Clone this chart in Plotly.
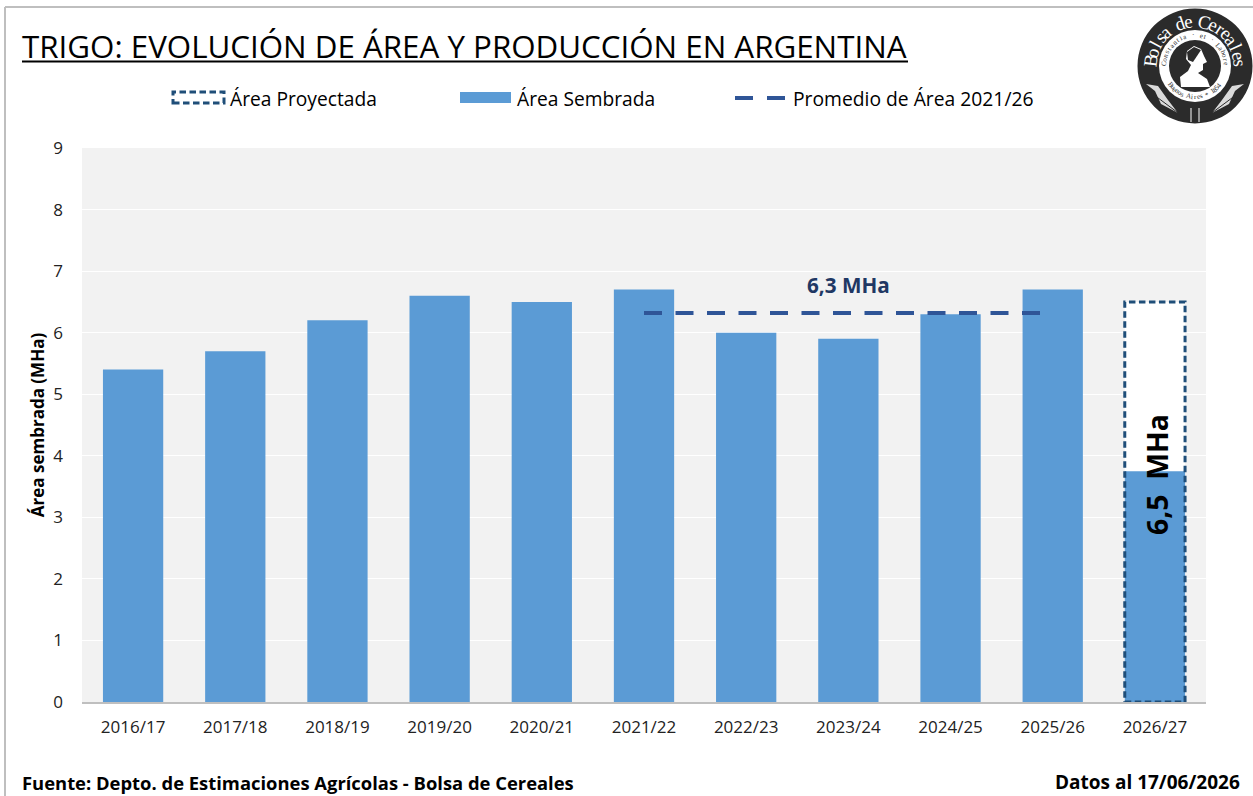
import math
import plotly.graph_objects as go

# ---- data ----
campaigns = ["2016/17", "2017/18", "2018/19", "2019/20", "2020/21", "2021/22",
             "2022/23", "2023/24", "2024/25", "2025/26", "2026/27"]
area_sembrada = [5.4, 5.7, 6.2, 6.6, 6.5, 6.7, 6.0, 5.9, 6.3, 6.7, 3.75]
area_proyectada = [None] * 10 + [6.5]
promedio_campaigns = ["2021/22", "2022/23", "2023/24", "2024/25", "2025/26"]
promedio_area = [6.32, 6.32, 6.32, 6.32, 6.32]
y_ticks = [0, 1, 2, 3, 4, 5, 6, 7, 8, 9]

TITLE = "TRIGO: EVOLUCIÓN DE ÁREA Y PRODUCCIÓN EN ARGENTINA"
FONT = "Open Sans"
BLUE = "#5B9BD5"
DASHBLUE = "#1F4E79"
MEAN = "#2F5597"
LOGO = "#2B2B2B"
BAR_W = 0.59

W, H = 1253, 796
L, R, T, B = 82, 1206, 148, 702


def px(x):
    return (x - L) / (R - L)


def py(y):
    return (B - y) / (B - T)


fig = go.Figure()
fig.add_bar(x=campaigns, y=area_proyectada, name="Área Proyectada", width=BAR_W,
            marker=dict(color="white", line=dict(width=0)), hoverinfo="skip")
fig.add_bar(x=campaigns, y=area_sembrada, name="Área Sembrada", width=BAR_W,
            marker=dict(color=BLUE, line=dict(width=0)), hoverinfo="skip")
fig.add_scatter(x=promedio_campaigns, y=promedio_area, mode="lines",
                name="Promedio de Área 2021/26",
                line=dict(color=MEAN, width=4, dash="18px,13.5px"))

shapes = []
ann = []


def text(x, y, s, size, color="black", bold=False, anchor="left", angle=0, family=FONT):
    ann.append(dict(x=px(x), y=py(y), xref="paper", yref="paper", text=f"<b>{s}</b>" if bold else s,
                    showarrow=False, xanchor=anchor, yanchor="middle", textangle=angle,
                    font=dict(family=family, size=size, color=color)))


def circle(cx, cy, r, fill, line=None, lw=0):
    shapes.append(dict(type="circle", xref="paper", yref="paper", x0=px(cx - r), x1=px(cx + r),
                       y0=py(cy + r), y1=py(cy - r), fillcolor=fill,
                       line=dict(color=line or fill, width=lw), layer="above"))


def line(x0, y0, x1, y1, color, width, dash=None):
    shapes.append(dict(type="line", xref="paper", yref="paper", x0=px(x0), x1=px(x1),
                       y0=py(y0), y1=py(y1), line=dict(color=color, width=width, dash=dash), layer="above"))


def rect(x0, y0, x1, y1, fill, color=None, width=0, dash=None, layer="above"):
    shapes.append(dict(type="rect", xref="paper", yref="paper", x0=px(x0), x1=px(x1),
                       y0=py(y1), y1=py(y0), fillcolor=fill,
                       line=dict(color=color or fill, width=width, dash=dash), layer=layer))


def path(points, fill):
    d = "M " + " L ".join(f"{px(a):.5f},{py(b):.5f}" for a, b in points) + " Z"
    shapes.append(dict(type="path", path=d, xref="paper", yref="paper", fillcolor=fill,
                       line=dict(width=0), layer="above"))


def arc_text(cx, cy, r, s, start, end, size, color, bottom=False, family="Liberation Serif"):
    n = len(s)
    for i, ch in enumerate(s):
        a = start + (end - start) * (i + 0.5) / n
        ar = math.radians(a)
        x = cx + r * math.sin(ar)
        y = cy - r * math.cos(ar)
        ang = a + 180 if bottom else a
        ann.append(dict(x=px(x), y=py(y), xref="paper", yref="paper", text=ch, showarrow=False,
                        xanchor="center", yanchor="middle", textangle=ang,
                        font=dict(family=family, size=size, color=color)))


# dashed outline of the projected bar, tied to the data
shapes.append(dict(type="rect", xref="x", yref="y", x0=campaigns[-1], x1=campaigns[-1],
                   x0shift=-BAR_W / 2, x1shift=BAR_W / 2, y0=0, y1=area_proyectada[-1],
                   fillcolor="rgba(0,0,0,0)", layer="above",
                   line=dict(color=DASHBLUE, width=3, dash="6.5px,3.5px")))

# frame
line(5, 7, 1253, 7, "#BFBFBF", 2)
line(5, 7, 5, 796, "#BFBFBF", 2)

# title
text(20, 46, TITLE, 31.3)
line(22, 61.5, 908, 61.5, "black", 2)

# hand-placed legend
rect(173, 92, 224, 103, "rgba(0,0,0,0)", DASHBLUE, 3, "6.5px,3.5px")
text(228, 98, "Área Proyectada", 19.2)
rect(460, 92, 511, 103, BLUE)
text(515, 98, "Área Sembrada", 19.2)
line(735, 98, 753, 98, MEAN, 4)
line(767, 98, 785, 98, MEAN, 4)
text(791, 98, "Promedio de Área 2021/26", 19.3)

# chart labels
text(848, 285, "6,3 MHa", 20.7, color="#1F3864", bold=True, anchor="center")
text(1157, 475, "6,5  MHa", 28.4, bold=True, anchor="center", angle=-90)
text(20, 782, "Fuente: Depto. de Estimaciones Agrícolas - Bolsa de Cereales", 18.4, bold=True)
text(1242, 782, "Datos al 17/06/2026", 19, bold=True, anchor="right")

# seal
cx, cy = 1195, 66
circle(cx, cy, 57.5, LOGO)
circle(cx, cy, 36, "white")
circle(cx, cy, 26, LOGO)
arc_text(cx, cy, 45, "Bolsa de Cereales", -88, 92, 19, "white")
arc_text(cx, cy, 31, "Constantia · et · Labore", -90, 90, 7, LOGO)
arc_text(cx, cy, 31, "Buenos Aires * 1854", 235, 125, 7, LOGO, bottom=True)
# bust, hair and wreath silhouettes
path([(cx - 14, cy + 21), (cx - 15, cy + 11), (cx - 7, cy + 5), (cx - 4, cy - 1), (cx - 9, cy - 7),
      (cx - 8, cy - 15), (cx - 1, cy - 20), (cx + 6, cy - 17), (cx + 9, cy - 10), (cx + 12, cy - 4),
      (cx + 8, cy - 2), (cx + 8, cy + 4), (cx + 3, cy + 7), (cx + 12, cy + 13), (cx + 15, cy + 21)],
     "white")
path([(cx - 8, cy - 14), (cx - 1, cy - 19), (cx + 6, cy - 16), (cx + 2, cy - 10), (cx - 2, cy - 4),
      (cx - 7, cy - 6)], LOGO)
for side in (-1, 1):
    path([(cx + side * 49, cy + 18), (cx + side * 40, cy + 25), (cx + side * 34, cy + 38),
          (cx + side * 17, cy + 47), (cx + side * 27, cy + 34), (cx + side * 37, cy + 20)], "#DADADA")
    line(cx + side * 49, cy + 23, cx + side * 10, cy + 52, LOGO, 1)
    line(cx + side * 4, cy + 42, cx + side * 4, cy + 56, "white", 1)

fig.update_layout(
    width=W, height=H, autosize=False,
    margin=dict(l=L, r=W - R, t=T, b=H - B),
    paper_bgcolor="white", plot_bgcolor="#F2F2F2",
    barmode="overlay", showlegend=False,
    font=dict(family=FONT, size=17, color="#222222"),
    shapes=shapes, annotations=ann,
    xaxis=dict(type="category", categoryorder="array", categoryarray=campaigns,
               range=[-0.5, 10.5], showgrid=False, ticks="", tickfont=dict(size=17),
               showline=True, linecolor="#BFBFBF", linewidth=1.5, ticklabelstandoff=9, automargin=False),
    yaxis=dict(range=[0, 9], tickvals=y_ticks, showgrid=True, gridcolor="white", gridwidth=1,
               zeroline=False, ticks="", tickfont=dict(size=17), ticklabelstandoff=18, automargin=False,
               title=dict(text="<b>Área sembrada (MHa)</b>", font=dict(size=17, color="black"), standoff=4)),
)

fig.write_html("out.html", post_script="document.body.style.margin='0';",
               config=dict(displayModeBar=False))
